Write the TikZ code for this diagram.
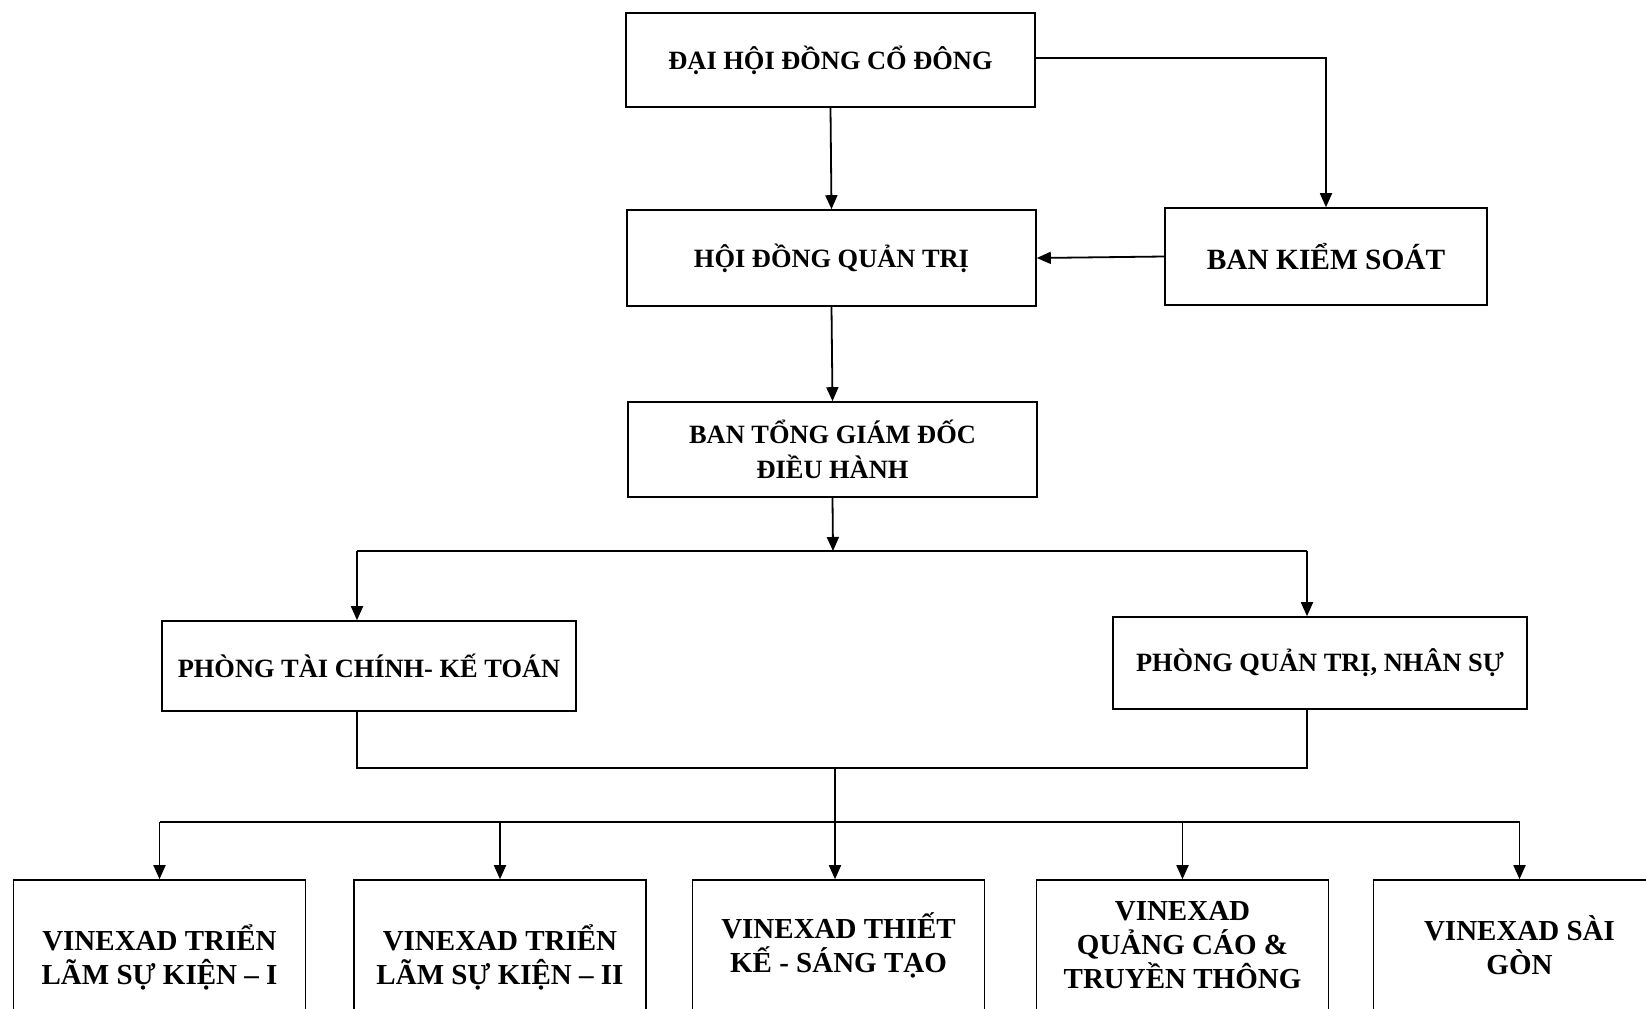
\documentclass[tikz,border=0pt]{standalone}
\usepackage{fontspec}
\setmainfont{Liberation Serif}
\usetikzlibrary{arrows.meta}

\begin{document}
\begin{tikzpicture}[
  x=.5pt, y=-.5pt,
  box/.style={draw, line width=.8pt, align=center, inner sep=2pt,
    font=\bfseries\fontsize{13.2}{17.5}\selectfont},
  unit/.style={box, minimum width=146pt,
    font=\bfseries\fontsize{14.5}{17}\selectfont},
  link/.style={line width=.9pt},
  arr/.style={link, -{Triangle[length=7pt,width=6pt]}}
]
  \clip (0,0) rectangle (1646,1008);

  % Top levels
  \node[box, minimum width=204.5pt, minimum height=47pt] (dhd) at (830.5,60)
    {ĐẠI HỘI ĐỒNG CỔ ĐÔNG};
  \node[box, minimum width=204.5pt, minimum height=48pt] (hdqt) at (831.5,258)
    {HỘI ĐỒNG QUẢN TRỊ};
  \node[box, minimum width=161pt, minimum height=48.5pt,
    font=\bfseries\fontsize{14.7}{17.5}\selectfont] (bks) at (1326,256.5)
    {BAN KIỂM SOÁT};
  \node[box, minimum width=204.5pt, minimum height=47.5pt] (btgd) at (832.5,449.5)
    {BAN TỔNG GIÁM ĐỐC\\ĐIỀU HÀNH};

  % Departments
  \node[box, minimum width=207pt, minimum height=45pt] (ptc) at (369,666)
    {PHÒNG TÀI CHÍNH- KẾ TOÁN};
  \node[box, minimum width=207pt, minimum height=46pt] (pqt) at (1320,663)
    {PHÒNG QUẢN TRỊ, NHÂN SỰ};

  % Units
  \node[unit, minimum height=77pt] (b1) at (159.5,957)
    {VINEXAD TRIỂN\\LÃM SỰ KIỆN – I};
  \node[unit, minimum height=77pt] (b2) at (500,957)
    {VINEXAD TRIỂN\\LÃM SỰ KIỆN – II};
  \node[unit, minimum height=65pt] (b3) at (838.5,945)
    {VINEXAD THIẾT\\KẾ - SÁNG TẠO};
  \node[unit, minimum height=65pt] (b4) at (1182.5,945)
    {VINEXAD\\QUẢNG CÁO \&\\TRUYỀN THÔNG};
  \node[unit, minimum height=65pt] (b5) at (1519.5,945)
    {VINEXAD SÀI\\GÒN};

  % Lines
  \coordinate (split) at (833,551);
  \coordinate (left) at (357,551);
  \coordinate (right) at (1307,551);
  \coordinate (join) at (835,768);
  \coordinate (bus) at (835,822);

  \draw[arr] ([yshift=1pt]dhd.east) -| (bks.north);
  \draw[arr] (dhd.south) -- (hdqt.north);
  \draw[arr] (bks.west) -- (hdqt.east);
  \draw[arr] (hdqt.south) -- (btgd.north);
  \draw[arr] (btgd.south) -- (split);

  \draw[link] (left) -- (right);
  \draw[arr] (left) -- (left |- ptc.north);
  \draw[arr] (right) -- (right |- pqt.north);

  \draw[link] (left |- ptc.south) |- (join) -| (right |- pqt.south);
  \draw[arr] (join) -- (join |- b3.north);

  \draw[link] (b1.north |- bus) -- (b5.north |- bus);
  \foreach \b in {b1,b2,b4,b5}
    \draw[arr] (\b.north |- bus) -- (\b.north);
\end{tikzpicture}
\end{document}
